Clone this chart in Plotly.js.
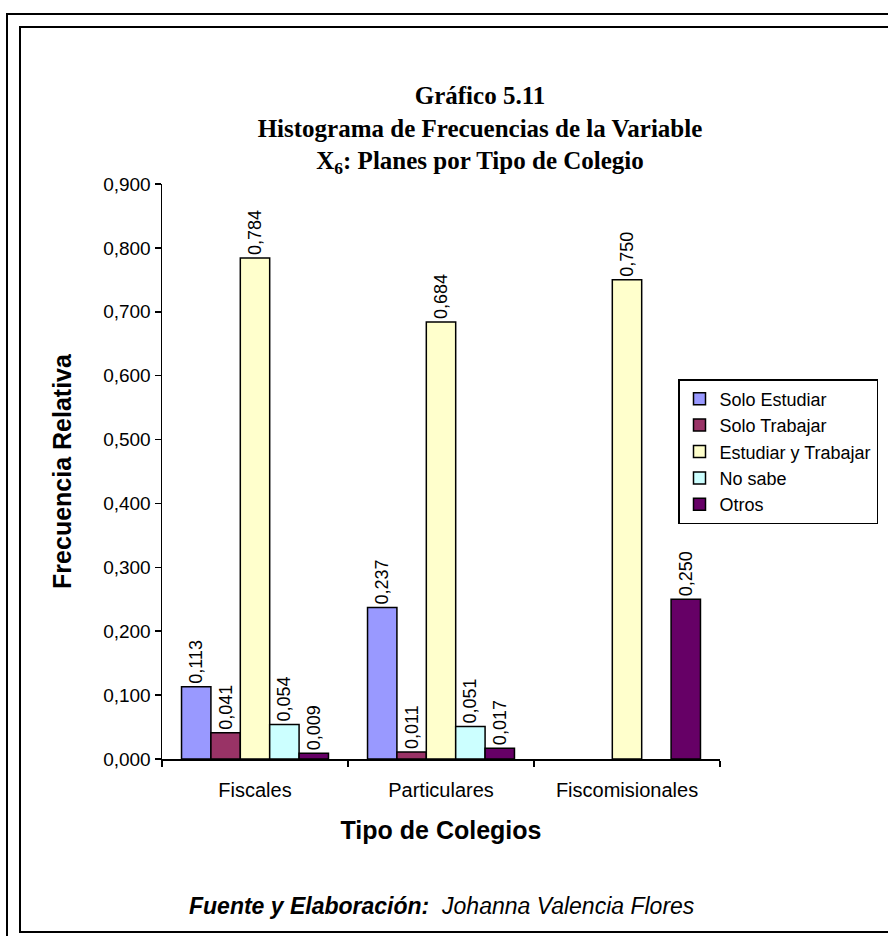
<!DOCTYPE html>
<html>
<head>
<meta charset="utf-8">
<script src="https://cdn.plot.ly/plotly-3.0.1.min.js"></script>
<style>
html,body{margin:0;padding:0;background:#fff;}
#chart{width:888px;height:936px;}
</style>
</head>
<body>
<div id="chart"></div>
<script>
// ---- data ----
var categories = ["Fiscales", "Particulares", "Fiscomisionales"];
var seriesNames = ["Solo Estudiar", "Solo Trabajar", "Estudiar y Trabajar", "No sabe", "Otros"];
var soloEstudiar      = [0.113, 0.237, null];
var soloTrabajar      = [0.041, 0.011, null];
var estudiarTrabajar  = [0.784, 0.684, 0.750];
var noSabe            = [0.054, 0.051, null];
var otros             = [0.009, 0.017, 0.250];
var yTickVals = [0, 0.1, 0.2, 0.3, 0.4, 0.5, 0.6, 0.7, 0.8, 0.9];

var titleLines = ["Gráfico 5.11", "Histograma de Frecuencias de la Variable", "X<sub>6</sub>: Planes por Tipo de Colegio"];

var seriesValues = [soloEstudiar, soloTrabajar, estudiarTrabajar, noSabe, otros];
var seriesColors = ["#9999FF", "#993366", "#FFFFCC", "#CCFFFF", "#660066"];

// ---- geometry (pixels) ----
var W = 888, H = 936;
var L = 162, R = 720, T = 184, B = 759;
function px(x){ return (x - L) / (R - L); }
function py(y){ return (B - y) / (B - T); }

var FONT = "Liberation Sans, Arial, sans-serif";
var SERIF = "Liberation Serif, Times New Roman, serif";

var traces = seriesNames.map(function(name, i){
  return {
    type: "bar",
    name: name,
    x: categories,
    y: seriesValues[i],
    marker: {color: seriesColors[i], line: {color: "#000", width: 1.5}},
    texttemplate: "%{y:.3f}",
    textposition: "outside",
    textangle: -90,
    constraintext: "none",
    cliponaxis: false,
    textfont: {family: FONT, size: 18, color: "#000"},
    hoverinfo: "skip"
  };
});

var shapes = [
  {type: "rect", xref: "paper", yref: "paper",
   x0: px(7), x1: px(900), y0: py(14), y1: py(950),
   line: {color: "#000", width: 2}, fillcolor: "rgba(0,0,0,0)", layer: "below"},
  {type: "rect", xref: "paper", yref: "paper",
   x0: px(20), x1: px(905), y0: py(27), y1: py(932),
   line: {color: "#000", width: 2}, fillcolor: "rgba(0,0,0,0)", layer: "below"}
];

var layout = {
  width: W, height: H, autosize: false,
  paper_bgcolor: "#fff", plot_bgcolor: "#fff",
  separators: ",.",
  margin: {l: L, r: W - R, t: T, b: H - B, pad: 0, autoexpand: false},
  showlegend: true,
  barmode: "group",
  bargap: 0.21,
  bargroupgap: 0,
  font: {family: FONT, color: "#000"},
  title: {
    text: "<b>" + titleLines.join("<br>") + "</b>",
    font: {family: SERIF, size: 25, color: "#000"},
    x: 480 / W, xanchor: "center", xref: "container",
    y: 1 - 104 / H, yanchor: "middle", yref: "container"
  },
  xaxis: {
    type: "category",
    showline: true, linecolor: "#000", linewidth: 1.5,
    ticks: "outside", tickson: "boundaries", ticklen: 6, tickwidth: 1.5, tickcolor: "#000",
    ticklabelstandoff: 12,
    tickfont: {family: FONT, size: 20, color: "#000"},
    showgrid: false, zeroline: false,
    title: {text: "<b>Tipo de Colegios</b>", font: {family: FONT, size: 25, color: "#000"}, standoff: 22},
    automargin: false, fixedrange: true
  },
  yaxis: {
    range: [0, 0.9],
    tickvals: yTickVals,
    tickformat: ".3f",
    showline: true, linecolor: "#000", linewidth: 1.5,
    ticks: "outside", ticklen: 6, tickwidth: 1.5, tickcolor: "#000",
    tickfont: {family: FONT, size: 19, color: "#000"},
    showgrid: false, zeroline: false,
    title: {text: "<b>Frecuencia Relativa</b>", font: {family: FONT, size: 25, color: "#000"}, standoff: 24},
    automargin: false, fixedrange: true
  },
  legend: {
    x: px(678), y: py(379), xanchor: "left", yanchor: "top",
    bgcolor: "#fff", bordercolor: "#000", borderwidth: 1.5,
    font: {family: FONT, size: 18, color: "#000"},
    traceorder: "normal",
    itemwidth: 30
  },
  shapes: shapes,
  annotations: [
    {xref: "paper", yref: "paper", x: px(442), y: py(906), xanchor: "center", yanchor: "middle",
     showarrow: false,
     text: "<b><i>Fuente y Elaboración:</i></b>  <i>Johanna Valencia Flores</i>",
     font: {family: FONT, size: 23, color: "#000"}}
  ]
};

Plotly.newPlot("chart", traces, layout, {displayModeBar: false, staticPlot: true});
</script>
</body>
</html>
